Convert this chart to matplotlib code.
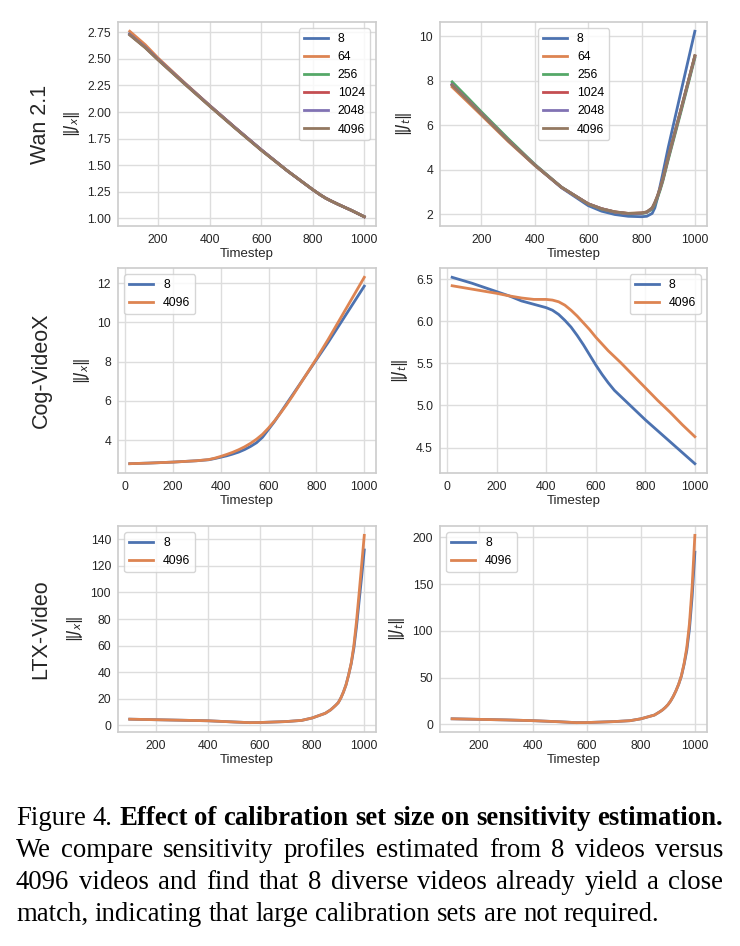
import numpy as np
import matplotlib.pyplot as plt

# data
wan_sizes = ['8', '64', '256', '1024', '2048', '4096']

wan_x_t = [90, 150, 200, 300, 400, 500, 600, 700, 750, 800, 830, 850, 870, 900, 950, 1000]
wan_jx_8 = [2.74, 2.62, 2.50, 2.278, 2.06, 1.85, 1.645, 1.45, 1.36, 1.27, 1.22, 1.19, 1.165, 1.13, 1.075, 1.015]
wan_jx_64 = [2.76, 2.634, 2.508, 2.282, 2.063, 1.852, 1.646, 1.45, 1.36, 1.27, 1.22, 1.19, 1.165, 1.13, 1.075, 1.015]
wan_jx_256 = [2.73, 2.61, 2.495, 2.275, 2.06, 1.85, 1.645, 1.45, 1.36, 1.27, 1.22, 1.19, 1.165, 1.13, 1.075, 1.015]
wan_jx_1024 = [2.73, 2.61, 2.495, 2.275, 2.06, 1.85, 1.645, 1.45, 1.36, 1.27, 1.22, 1.19, 1.165, 1.13, 1.075, 1.015]
wan_jx_2048 = [2.73, 2.61, 2.495, 2.275, 2.06, 1.85, 1.645, 1.45, 1.36, 1.27, 1.22, 1.19, 1.165, 1.13, 1.075, 1.015]
wan_jx_4096 = [2.725, 2.605, 2.49, 2.27, 2.055, 1.845, 1.64, 1.45, 1.36, 1.27, 1.22, 1.19, 1.165, 1.13, 1.075, 1.015]

wan_t_t = [90, 150, 200, 300, 400, 500, 600, 650, 700, 750, 800, 820, 840, 850, 860, 870, 880, 900, 950, 1000]
wan_jt_8 = [7.85, 7.15, 6.55, 5.35, 4.22, 3.20, 2.40, 2.15, 2.00, 1.92, 1.90, 1.92, 2.05, 2.30, 2.75, 3.30, 3.85, 5.00, 7.62, 10.22]
wan_jt_64 = [7.72, 7.03, 6.45, 5.28, 4.20, 3.22, 2.48, 2.26, 2.12, 2.05, 2.07, 2.11, 2.28, 2.50, 2.80, 3.15, 3.55, 4.50, 6.78, 9.10]
wan_jt_256 = [7.95, 7.22, 6.60, 5.40, 4.25, 3.23, 2.47, 2.24, 2.10, 2.03, 2.04, 2.09, 2.24, 2.45, 2.75, 3.10, 3.50, 4.45, 6.70, 9.02]
wan_jt_1024 = [7.82, 7.12, 6.52, 5.33, 4.22, 3.22, 2.48, 2.26, 2.11, 2.04, 2.06, 2.11, 2.28, 2.52, 2.82, 3.18, 3.58, 4.55, 6.80, 9.10]
wan_jt_2048 = [7.82, 7.12, 6.52, 5.33, 4.22, 3.22, 2.48, 2.26, 2.11, 2.04, 2.06, 2.11, 2.28, 2.52, 2.82, 3.18, 3.58, 4.55, 6.80, 9.10]
wan_jt_4096 = [7.80, 7.10, 6.50, 5.32, 4.21, 3.22, 2.48, 2.26, 2.12, 2.05, 2.07, 2.12, 2.30, 2.55, 2.85, 3.20, 3.60, 4.58, 6.82, 9.13]

cog_x_t = [20, 100, 200, 300, 350, 375, 400, 425, 450, 475, 500, 525, 550, 575, 600, 625, 650, 675, 700, 750, 800, 850, 900, 950, 1000]
cog_jx_8 = [2.80, 2.83, 2.88, 2.95, 3.00, 3.06, 3.13, 3.20, 3.29, 3.39, 3.52, 3.68, 3.87, 4.15, 4.55, 4.95, 5.40, 5.85, 6.30, 7.20, 8.10, 9.00, 9.95, 10.90, 11.85]
cog_jx_4096 = [2.80, 2.83, 2.88, 2.95, 3.01, 3.08, 3.17, 3.27, 3.38, 3.51, 3.66, 3.84, 4.05, 4.30, 4.62, 4.98, 5.38, 5.80, 6.25, 7.20, 8.15, 9.15, 10.20, 11.25, 12.30]

cog_t_t = [20, 100, 200, 250, 300, 350, 400, 425, 450, 475, 500, 525, 550, 575, 600, 625, 650, 675, 700, 750, 800, 850, 900, 950, 1000]
cog_jt_8 = [6.52, 6.45, 6.35, 6.30, 6.24, 6.20, 6.16, 6.13, 6.08, 6.01, 5.93, 5.83, 5.72, 5.60, 5.48, 5.37, 5.27, 5.18, 5.11, 4.97, 4.83, 4.70, 4.57, 4.44, 4.31]
cog_jt_4096 = [6.42, 6.38, 6.33, 6.30, 6.275, 6.258, 6.258, 6.25, 6.23, 6.19, 6.13, 6.06, 5.98, 5.90, 5.81, 5.73, 5.65, 5.58, 5.51, 5.36, 5.21, 5.06, 4.92, 4.77, 4.63]

ltx_t = [100, 200, 300, 400, 500, 560, 600, 700, 760, 800, 850, 870, 880, 890, 900, 910, 920, 930, 940, 950, 960, 970, 980, 990, 1000]
ltx_jx_8 = [4.6, 4.2, 3.8, 3.4, 2.5, 2.0, 2.1, 2.8, 3.7, 5.5, 9.0, 11.5, 13.2, 15.0, 17.0, 20.5, 25.0, 30.5, 38.0, 46.5, 58.0, 74.0, 93.0, 112.0, 132.0]
ltx_jx_4096 = [4.6, 4.2, 3.8, 3.4, 2.5, 2.0, 2.1, 2.8, 3.7, 5.5, 9.0, 11.5, 13.2, 15.0, 17.0, 20.5, 25.0, 30.5, 38.0, 47.0, 60.0, 78.0, 99.0, 121.0, 143.0]
ltx_jt_8 = [6.0, 5.4, 4.8, 4.0, 2.8, 1.9, 2.0, 3.0, 4.0, 6.0, 10.0, 13.5, 15.5, 18.0, 21.0, 25.0, 30.0, 36.0, 43.0, 51.5, 64.0, 79.0, 102.0, 137.0, 184.0]
ltx_jt_4096 = [6.0, 5.4, 4.8, 4.0, 2.8, 1.9, 2.0, 3.0, 4.0, 6.0, 10.0, 13.5, 15.5, 18.0, 21.0, 25.0, 30.0, 36.0, 43.0, 52.0, 65.0, 82.0, 108.0, 148.0, 202.0]

row_names = ['Wan 2.1', 'Cog-VideoX', 'LTX-Video']
caption_lines = [
    [('Figure', 'normal'), ('4.', 'normal'), ('Effect', 'bold'), ('of', 'bold'), ('calibration', 'bold'),
     ('set', 'bold'), ('size', 'bold'), ('on', 'bold'), ('sensitivity', 'bold'), ('estimation.', 'bold')],
    'We compare sensitivity profiles estimated from 8 videos versus',
    '4096 videos and find that 8 diverse videos already yield a close',
    'match, indicating that large calibration sets are not required.',
]

colors = ['#4C72B0', '#DD8452', '#55A868', '#C44E52', '#8172B3', '#937860']

plt.rcParams.update({
    'font.family': ['Liberation Sans', 'DejaVu Sans'],
    'axes.edgecolor': '#cccccc',
    'axes.linewidth': 1.2,
    'axes.grid': True,
    'grid.color': '#dddddd',
    'grid.linewidth': 1.0,
    'axes.labelcolor': '#262626',
    'xtick.color': '#262626',
    'ytick.color': '#262626',
    'xtick.major.size': 0,
    'ytick.major.size': 0,
    'xtick.major.pad': 6,
    'ytick.major.pad': 5,
    'xtick.labelsize': 8.8,
    'ytick.labelsize': 8.8,
    'axes.labelsize': 9.5,
    'legend.fontsize': 8.8,
    'legend.edgecolor': '#cccccc',
})

W, H = 740, 946
fig = plt.figure(figsize=(7.4, 9.46), dpi=100)


def box(x0, x1, top, bottom):
    return [x0 / W, 1 - bottom / H, (x1 - x0) / W, (bottom - top) / H]


rows_px = [(22, 226), (268, 473), (526, 732)]
cols_px = [(118, 376), (440, 707)]

axes = [[fig.add_axes(box(c[0], c[1], r[0], r[1])) for c in cols_px] for r in rows_px]

lw = 2.0

ax = axes[0][0]
for lab, ys, c in zip(wan_sizes, [wan_jx_8, wan_jx_64, wan_jx_256, wan_jx_1024, wan_jx_2048, wan_jx_4096], colors):
    ax.plot(wan_x_t, ys, color=c, lw=lw, label=lab)
ax.legend(loc='upper right')
ax.set_ylabel(r'$\Vert J_x \Vert$')

ax = axes[0][1]
for lab, ys, c in zip(wan_sizes, [wan_jt_8, wan_jt_64, wan_jt_256, wan_jt_1024, wan_jt_2048, wan_jt_4096], colors):
    ax.plot(wan_t_t, ys, color=c, lw=lw, label=lab)
ax.legend(loc='upper center')
ax.set_ylabel(r'$\Vert J_t \Vert$')

ax = axes[1][0]
ax.plot(cog_x_t, cog_jx_8, color=colors[0], lw=lw, label='8')
ax.plot(cog_x_t, cog_jx_4096, color=colors[1], lw=lw, label='4096')
ax.legend(loc='upper left')
ax.set_ylabel(r'$\Vert J_x \Vert$')

ax = axes[1][1]
ax.plot(cog_t_t, cog_jt_8, color=colors[0], lw=lw, label='8')
ax.plot(cog_t_t, cog_jt_4096, color=colors[1], lw=lw, label='4096')
ax.legend(loc='upper right')
ax.set_ylabel(r'$\Vert J_t \Vert$')

ax = axes[2][0]
ax.plot(ltx_t, ltx_jx_8, color=colors[0], lw=lw, label='8')
ax.plot(ltx_t, ltx_jx_4096, color=colors[1], lw=lw, label='4096')
ax.legend(loc='upper left')
ax.set_ylabel(r'$\Vert J_x \Vert$')

ax = axes[2][1]
ax.plot(ltx_t, ltx_jt_8, color=colors[0], lw=lw, label='8')
ax.plot(ltx_t, ltx_jt_4096, color=colors[1], lw=lw, label='4096')
ax.legend(loc='upper left')
ax.set_ylabel(r'$\Vert J_t \Vert$')

for row in axes:
    for ax in row:
        ax.set_xlabel('Timestep', labelpad=1)
        ax.yaxis.label.set_size(11)
        ax.set_axisbelow(True)

for name, (top, bottom) in zip(row_names, rows_px):
    fig.text(41 / W, 1 - (top + bottom) / 2 / H, name, rotation=90, ha='center', va='center',
             fontsize=15.5, color='#262626')

# justified caption
left, right = 16, 723
baselines = [825, 857, 889, 921]
renderer = fig.canvas.get_renderer()
for i, (line, yb) in enumerate(zip(caption_lines, baselines)):
    if isinstance(line, str):
        words = [(w, 'normal') for w in line.split()]
    else:
        words = line
    texts = [fig.text(0, 1 - yb / H, w, fontsize=19.3, family='Liberation Serif', weight=wt,
                      va='baseline', ha='left', color='black') for w, wt in words]
    widths = [t.get_window_extent(renderer).width for t in texts]
    if i < len(caption_lines) - 1:
        gap = (right - left - sum(widths)) / (len(words) - 1)
    else:
        gap = 19.3 * 100 / 72 * 0.25
    x = left
    for t, w in zip(texts, widths):
        t.set_x(x / W)
        x += w + gap

fig.savefig('out.png', dpi=100)
